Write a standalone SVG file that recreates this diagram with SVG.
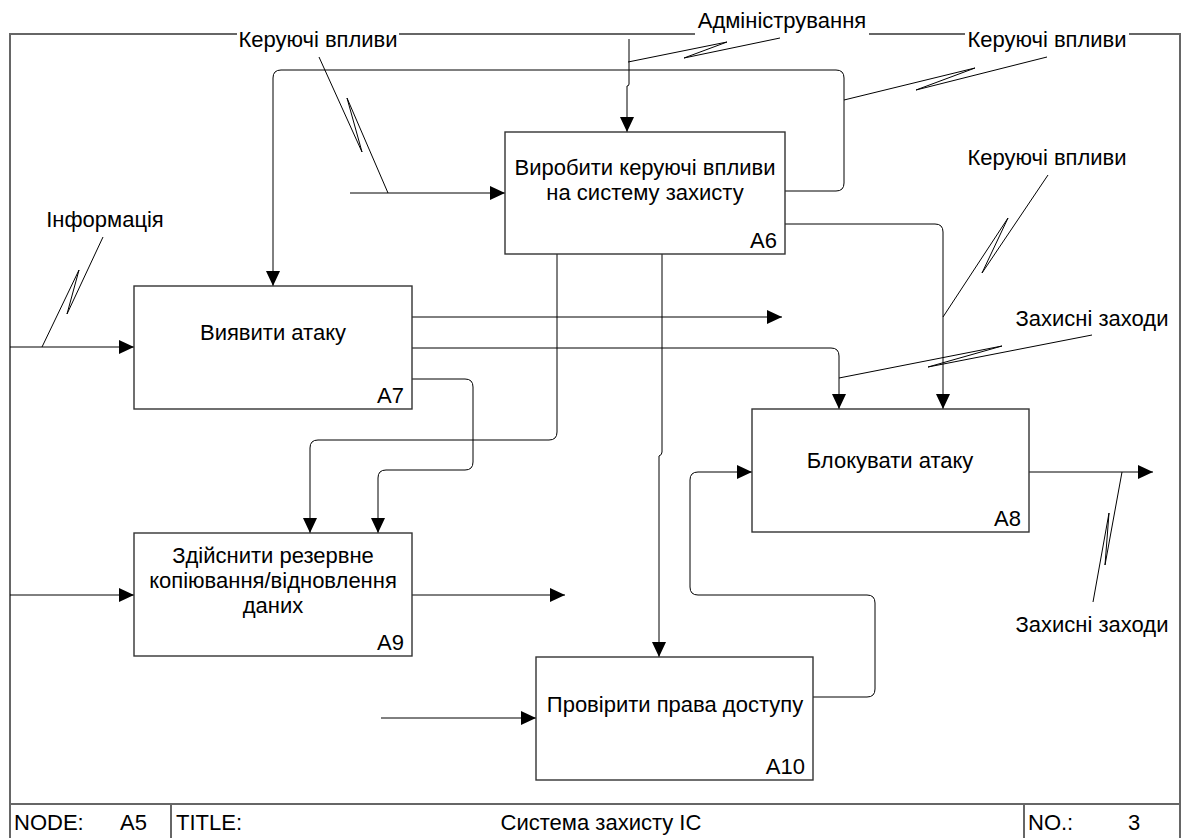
<svg xmlns="http://www.w3.org/2000/svg" width="1189" height="838" viewBox="0 0 1189 838">
  <style>
    .frame { fill: none; stroke: #666; stroke-width: 2; }
    .box { fill: #fff; stroke: #333; stroke-width: 1.4; }
    .arrow { fill: none; stroke: #000; stroke-width: 1; marker-end: url(#head); }
    .squig { fill: none; stroke: #000; stroke-width: 1; stroke-linejoin: miter; stroke-miterlimit: 20; }
    text { font-family: "Liberation Sans", Arial, sans-serif; font-size: 22px; fill: #000; }
    .mid { text-anchor: middle; }
    .num { text-anchor: end; }
  </style>
  <defs>
    <marker id="head" markerUnits="userSpaceOnUse" markerWidth="15" markerHeight="14" refX="15" refY="7" orient="auto">
      <path d="M0,0 L15,7 L0,14 z" fill="#000"/>
    </marker>
  </defs>
  <rect width="1189" height="838" fill="#fff"/>

  <!-- drawing frame and title strip -->
  <g id="frame">
    <path class="frame" d="M10,34 H237 M399,34 H695 M869,34 H965 M1129,34 H1180 M10,33 V838 M1180,33 V838 M10,804 H1180 M171,804 V838 M1024,804 V838"/>
    <text x="14" y="830">NODE:</text>
    <text x="120" y="830">A5</text>
    <text x="176" y="830">TITLE:</text>
    <text x="601" y="830" class="mid">Система захисту ІС</text>
    <text x="1028" y="830">NO.:</text>
    <text x="1128" y="830">3</text>
  </g>

  <!-- arrows, squiggles and arrow labels -->
  <g id="connectors">
    <path class="arrow" d="M10,347 H134"/>
    <path class="arrow" d="M350,193 H505"/>
    <path class="arrow" d="M629,39 V84 Q629,86 627,86 V132"/>
    <path class="arrow" d="M785,191 H836 Q844,191 844,183 V78 Q844,70 836,70 H281 Q273,70 273,78 V286"/>
    <path class="arrow" d="M785,224 H935 Q943,224 943,232 V409"/>
    <path class="arrow" d="M412,317 H782"/>
    <path class="arrow" d="M412,348 H831 Q839,348 839,356 V409"/>
    <path class="arrow" d="M412,379 H465 Q473,379 473,387 V462 Q473,470 465,470 H386 Q378,470 378,478 V533"/>
    <path class="arrow" d="M557,254 V432 Q557,440 549,440 H318 Q310,440 310,448 V533"/>
    <path class="arrow" d="M662,254 V452 Q662,455 659,456 V657"/>
    <path class="arrow" d="M10,595 H134"/>
    <path class="arrow" d="M412,595 H565"/>
    <path class="arrow" d="M381,718 H536"/>
    <path class="arrow" d="M813,697 H867 Q875,697 875,689 V603 Q875,595 867,595 H698 Q690,595 690,587 V480 Q690,472 698,472 H752"/>
    <path class="arrow" d="M1029,472 H1153"/>

    <!-- label leaders with the zigzag break -->
    <path class="squig" d="M103,237 L67,314 L79,270 L42,347"/>
    <path class="squig" d="M319,57 L362,152 L347,98 L388,193"/>
    <path class="squig" d="M780,38 L684,58 L727,42 L628,62"/>
    <path class="squig" d="M1047,57 L916,90 L975,68 L844,100"/>
    <path class="squig" d="M1048,175 L982,273 L1008,218 L943,317"/>
    <path class="squig" d="M1092,335 L928,367 L1002,346 L839,378"/>
    <path class="squig" d="M1093,602 L1109,513 L1105,565 L1122,472"/>

    <text x="318" y="47" class="mid">Керуючі впливи</text>
    <text x="782" y="28" class="mid">Адміністрування</text>
    <text x="1047" y="47" class="mid">Керуючі впливи</text>
    <text x="105" y="227" class="mid">Інформація</text>
    <text x="1047" y="165" class="mid">Керуючі впливи</text>
    <text x="1092" y="326" class="mid">Захисні заходи</text>
    <text x="1092" y="632" class="mid">Захисні заходи</text>
  </g>

  <!-- activity boxes -->
  <g id="A6">
    <rect class="box" x="505" y="132" width="280" height="122"/>
    <text x="645" y="175" class="mid">Виробити керуючі впливи</text>
    <text x="645" y="200" class="mid">на систему захисту</text>
    <text x="777" y="248" class="num">A6</text>
  </g>
  <g id="A7">
    <rect class="box" x="134" y="286" width="278" height="123"/>
    <text x="273" y="340" class="mid">Виявити атаку</text>
    <text x="404" y="403" class="num">A7</text>
  </g>
  <g id="A8">
    <rect class="box" x="752" y="409" width="277" height="123"/>
    <text x="890" y="468" class="mid">Блокувати атаку</text>
    <text x="1021" y="526" class="num">A8</text>
  </g>
  <g id="A9">
    <rect class="box" x="134" y="533" width="278" height="123"/>
    <text x="273" y="563" class="mid">Здійснити резервне</text>
    <text x="273" y="588" class="mid">копіювання/відновлення</text>
    <text x="273" y="613" class="mid">даних</text>
    <text x="404" y="650" class="num">A9</text>
  </g>
  <g id="A10">
    <rect class="box" x="536" y="657" width="277" height="123"/>
    <text x="675" y="712" class="mid">Провірити права доступу</text>
    <text x="805" y="774" class="num">A10</text>
  </g>
</svg>
